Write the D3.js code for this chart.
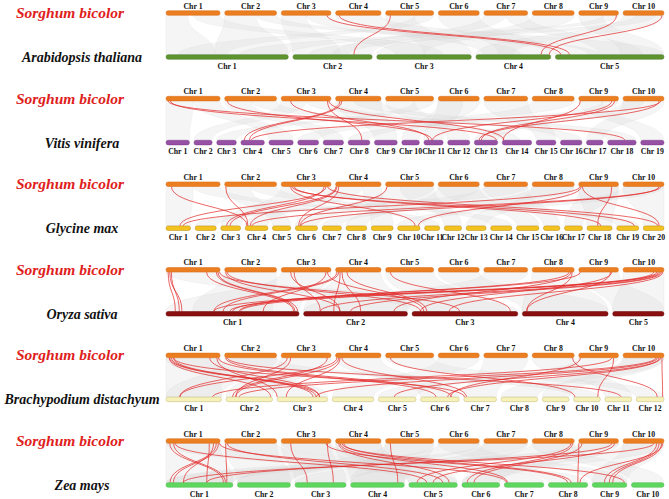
<!DOCTYPE html>
<html><head><meta charset="utf-8">
<script src="https://cdn.jsdelivr.net/npm/d3@7/dist/d3.min.js"></script>
<style>body{margin:0;background:#fff}</style>
</head><body><svg id="c" width="669" height="499"></svg>
<script>
// ---------- chromosome lengths ----------
const sorghumChr = [80.9,77.7,74.4,68.0,71.9,61.3,65.5,62.7,59.4,61.2];
const athChr = [30.4,19.7,23.5,18.6,27.0];
const vviChr = [24.2,18.7,20.2,24.2,25.0,21.5,21.0,22.4,23.5,18.1,19.8,22.7,24.1,30.3,20.3,22.1,17.1,29.4,24.0];
const gmaChr = [56.8,48.6,45.8,52.4,42.2,51.4,44.6,47.8,50.2,51.6,34.8,40.1,45.9,49.0,51.8,37.9,41.6,58.0,50.7,47.9];
const osaChr = [43.3,33.8,34.4,27.9,16.7];
const bdiChr = [56,47,51,42,38,39,33,37,27,27,27,28];
const zmaChr = [308,244,235,247,223,174,182,181,159,150];

// ---------- species ----------
const speciesNames = ["Arabidopsis thaliana","Vitis vinifera","Glycine max","Oryza sativa","Brachypodium distachyum","Zea mays"];

// ---------- red (highlighted) links: [sorghumChr, pos %, targetChr, pos %] ----------
const athRed = [[3,92,5,5],[4,8,5,13],[5,10,2,77],[9,95,4,87],[10,95,4,98]];
const vviRed = [[1,4,18,60],[1,8,13,95],[2,5,11,42],[3,19,11,25],[3,93,8,63],[3,96,14,5],[4,10,4,14],[4,14,4,36],
  [9,4,14,3],[9,83,11,45],[9,90,13,30],[10,92,4,45],[10,88,13,20]];
const gmaRed = [[1,10,4,8],[2,2,4,12],[3,19,10,78],[3,22,19,80],[3,26,18,55],[3,86,3,30],[3,90,1,57],[3,93,20,70],
  [4,3,4,22],[4,7,6,15],[4,1,3,47],[5,3,6,22],[9,6,10,93],[9,3,1,70],[9,83,18,42],[9,9,20,77],[10,92,4,30],[10,88,6,25]];
const osaRed = [[1,4,1,7],[1,7,1,12],[1,10,1,10],[1,75,1,96],[1,93,1,97],[1,96,1,99],[1,99,3,45],[2,2,2,35],[2,5,3,8],
  [3,19,2,35],[3,26,2,16],[3,90,1,73],[3,93,3,11],[4,3,1,36],[4,7,1,43],[4,10,2,29],[4,14,2,55],[4,25,3,14],[5,10,3,93],
  [8,92,2,87],[8,88,1,55],[8,95,4,5],[9,4,1,50],[9,83,3,8],[9,80,4,5],[10,75,1,36],[10,82,1,48],[10,86,1,56],[10,90,2,16],
  [10,94,2,45],[10,97,3,35]];
const bdiRed = [[1,7,3,71],[1,10,3,77],[1,14,3,84],[1,6,2,96],[1,14,7,2],[1,81,3,84],[1,94,3,0],[1,97,6,40],[2,2,6,80],
  [2,5,11,60],[3,12,1,25],[3,19,2,21],[3,93,2,14],[4,3,1,25],[4,7,2,21],[4,10,3,18],[4,14,7,8],[5,10,10,5],[8,96,12,76],
  [9,4,6,78],[9,83,1,84],[10,84,3,77],[10,88,6,70],[10,92,5,42],[10,80,2,28],[9,88,10,90],[10,95,12,95]];
const zmaRed = [[1,7,1,86],[1,14,1,89],[1,93,1,6],[1,97,1,11],[1,88,1,26],[1,80,1,61],[1,17,5,37],[1,99,7,6],[2,2,1,91],
  [2,5,5,70],[3,19,3,24],[3,93,3,75],[3,90,8,49],[4,7,5,83],[4,10,7,8],[4,14,9,93],[4,18,8,58],[5,10,4,88],[8,92,5,17],
  [8,96,6,14],[9,0,8,75],[9,8,6,32],[9,83,1,61],[9,90,5,50],[10,75,1,26],[10,82,9,35],[10,88,9,49],[10,94,9,59],[10,97,8,80]];

// ---------- grey syntenic blocks: [sChr, s0 %, s1 %, tChr, t0 %, t1 %] ----------
const athGray = [[1,0,40,1,0,40],[1,50,100,3,20,70],[2,0,60,1,40,100],[2,60,100,5,0,40],[3,0,50,2,0,60],[3,50,100,4,10,60],
  [4,0,100,5,30,100],[5,0,60,3,50,100],[5,60,100,1,10,50],[6,0,100,4,30,100],[7,0,50,2,50,100],[7,50,100,5,40,80],
  [8,0,100,3,0,50],[9,0,60,5,60,100],[9,60,100,1,60,100],[10,0,100,4,0,50],[10,30,80,2,20,70]];
const vviGray = [[1,0,50,1,0,100],[1,50,100,5,0,100],[2,0,50,7,0,100],[2,50,100,14,0,60],[3,0,50,2,0,100],[3,50,100,16,0,100],
  [4,0,100,9,0,100],[5,0,60,12,0,100],[5,60,100,3,0,100],[6,0,100,10,0,100],[7,0,100,15,0,100],[8,0,100,6,0,100],
  [9,0,60,19,0,100],[9,60,100,8,0,100],[10,0,100,17,0,100],[10,0,50,13,0,100],[4,40,100,18,0,100],[6,0,60,11,0,100]];
const gmaGray = [[1,0,50,1,0,100],[1,50,100,11,0,100],[2,0,50,5,0,100],[2,50,100,14,0,100],[3,0,50,3,0,100],[3,50,100,19,0,100],
  [4,0,60,4,0,100],[4,60,100,9,0,100],[5,0,100,6,0,100],[5,30,100,12,0,100],[6,0,100,8,0,100],[6,0,100,15,0,100],
  [7,0,100,2,0,100],[7,0,100,16,0,100],[8,0,100,7,0,100],[8,0,100,13,0,100],[9,0,100,18,0,100],[9,0,100,17,0,100],
  [10,0,100,10,0,100],[10,0,100,20,0,100]];
const osaGray = [[1,0,100,3,0,100],[3,0,100,1,0,100],[4,0,100,2,0,100],[6,0,100,4,0,100],[9,0,100,5,0,100],
  [2,0,100,1,20,80],[5,0,100,3,10,90],[7,0,100,2,0,100],[8,0,100,4,0,100],[10,0,100,5,0,100]];
const bdiGray = [[1,0,100,3,0,100],[1,0,100,1,0,100],[2,0,100,1,0,100],[3,0,100,2,0,100],[4,0,100,6,0,100],[5,0,100,12,0,100],
  [6,0,100,4,0,100],[7,0,100,7,0,100],[8,0,100,11,0,100],[9,0,100,5,0,100],[10,0,100,8,0,100],[10,0,100,9,0,100],[2,0,100,10,0,100]];
const zmaGray = [[1,0,100,1,0,100],[1,0,100,5,0,100],[2,0,100,2,0,100],[2,0,100,7,0,100],[3,0,100,3,0,100],[3,0,100,8,0,100],
  [4,0,100,4,0,100],[4,0,100,5,0,100],[5,0,100,4,0,100],[5,0,100,2,0,100],[6,0,100,9,0,100],[6,0,100,2,0,100],
  [7,0,100,4,0,100],[7,0,100,1,0,100],[8,0,100,3,0,100],[8,0,100,10,0,100],[9,0,100,6,0,100],[9,0,100,1,0,100],
  [10,0,100,6,0,100],[10,0,100,9,0,100]];

const panels = [
  {name: speciesNames[0], lens: athChr, fill:"#5e9330", stroke:"#4a7a22", red: athRed, gray: athGray},
  {name: speciesNames[1], lens: vviChr, fill:"#9650a4", stroke:"#7a3a88", red: vviRed, gray: vviGray},
  {name: speciesNames[2], lens: gmaChr, fill:"#f4c21e", stroke:"#b98a10", red: gmaRed, gray: gmaGray},
  {name: speciesNames[3], lens: osaChr, fill:"#8a0f0f", stroke:"#6d0808", red: osaRed, gray: osaGray},
  {name: speciesNames[4], lens: bdiChr, fill:"#f6f1b8", stroke:"#c2b878", red: bdiRed, gray: bdiGray},
  {name: speciesNames[5], lens: zmaChr, fill:"#5fd75f", stroke:"#45b845", red: zmaRed, gray: zmaGray}
];

const svg = d3.select("#c");
const X0 = 166, X1 = 664, GAP = 4.6, BAR_H = 4.6;
const topY = [13, 98.6, 184.2, 269.8, 355.4, 441];
const DY = 44;
const serif = "'Liberation Serif','Times New Roman',serif";

function layout(lens){
  const total = d3.sum(lens);
  const k = (X1 - X0 - GAP*(lens.length-1))/total;
  let x = X0;
  return lens.map(L => { const s = d3.scaleLinear().domain([0,100]).range([x, x+L*k]); x += L*k + GAP; return s; });
}
const sScales = layout(sorghumChr);

function curve(xs, ys, xt, yt){
  const m = (ys+yt)/2;
  return `M${xs},${ys}C${xs},${m} ${xt},${m} ${xt},${yt}`;
}
function ribbon(a0,a1,ys,b0,b1,yt){
  const m = (ys+yt)/2;
  return `M${a0},${ys}C${a0},${m} ${b0},${m} ${b0},${yt}L${b1},${yt}C${b1},${m} ${a1},${m} ${a1},${ys}Z`;
}

function drawBars(g, scales, y, fill, stroke, labelAbove){
  scales.forEach((s,i)=>{
    const [a,b] = s.range();
    g.append("rect").attr("x",a).attr("y",y-BAR_H/2).attr("width",b-a).attr("height",BAR_H)
      .attr("rx",2.2).attr("fill",fill).attr("stroke",stroke).attr("stroke-width",0.5);
    g.append("text").attr("x",(a+b)/2).attr("y", labelAbove ? y-4.5 : y+11.5)
      .attr("text-anchor","middle").attr("font-family",serif).attr("font-weight","bold")
      .attr("font-size",7.8).attr("fill","#111").text("Chr " + (i+1));
  });
}

panels.forEach((p,pi)=>{
  const g = svg.append("g");
  const ys = topY[pi], yt = ys + DY;
  const tScales = layout(p.lens);
  const y0 = ys + BAR_H/2, y1 = yt - BAR_H/2;
  // grey blocks
  g.append("g").selectAll("path").data(p.gray).join("path")
    .attr("d", d => ribbon(sScales[d[0]-1](d[1]), sScales[d[0]-1](d[2]), y0, tScales[d[3]-1](d[4]), tScales[d[3]-1](d[5]), y1))
    .attr("fill","#d9d9d9").attr("fill-opacity",0.26).attr("stroke","#cfcfcf").attr("stroke-opacity",0.5).attr("stroke-width",0.35);
  // red links
  g.append("g").selectAll("path").data(p.red).join("path")
    .attr("d", d => curve(sScales[d[0]-1](d[1]), y0, tScales[d[2]-1](d[3]), y1))
    .attr("fill","none").attr("stroke","#e32a2a").attr("stroke-width",0.8).attr("stroke-opacity",0.9);
  drawBars(g, sScales, ys, "#ec7e22", "#d86a10", true);
  drawBars(g, tScales, yt, p.fill, p.stroke, false);
  g.append("text").attr("x",70).attr("y",ys+5).attr("text-anchor","middle")
    .attr("font-family",serif).attr("font-weight","bold").attr("font-style","italic")
    .attr("font-size",15.5).attr("fill","#e0201b").text("Sorghum bicolor");
  g.append("text").attr("x",82).attr("y",yt+5).attr("text-anchor","middle")
    .attr("font-family",serif).attr("font-weight","bold").attr("font-style","italic")
    .attr("font-size",14).attr("fill","#111").text(p.name);
});
</script></body></html>
